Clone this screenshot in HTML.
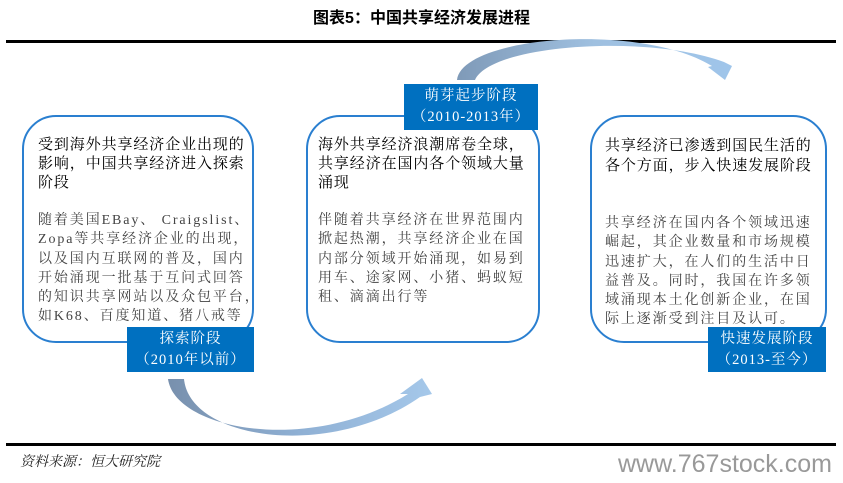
<!DOCTYPE html>
<html><head><meta charset="utf-8"><style>
body{margin:0;width:843px;height:483px;background:#fff;position:relative;overflow:hidden;font-family:"Liberation Serif","Noto Serif CJK SC",serif;}
.a{position:absolute;white-space:nowrap;}
.box{position:absolute;border:2px solid #2a7fd0;border-radius:34px;background:#fff;box-sizing:border-box;}
.h{font-size:15px;color:#000;letter-spacing:0.9px;}
.p{font-size:14px;color:#444;letter-spacing:1.9px;}
.lab{position:absolute;background:#0070c0;color:#fff;text-align:center;font-size:14.5px;line-height:21px;box-sizing:border-box;padding-top:2px;letter-spacing:1px;}
</style></head><body>
<div class="a" style="left:0;width:843px;top:4px;text-align:center;font-size:16px;font-weight:bold;font-family:'Liberation Sans','Noto Sans CJK SC',sans-serif;">图表5：中国共享经济发展进程</div>
<div class="a" style="left:6px;width:830px;top:40px;height:3px;background:#000"></div>
<div class="a" style="left:6px;width:830px;top:443px;height:3px;background:#000"></div>

<svg class="a" style="left:0;top:0" width="843" height="483">
<defs>
<linearGradient id="g1" x1="0" x2="1" y1="0" y2="0"><stop offset="0" stop-color="#7f9ab8"/><stop offset="0.5" stop-color="#9fc0e0"/><stop offset="1" stop-color="#9fc5ea"/></linearGradient>
<linearGradient id="g2" x1="0" x2="1" y1="0" y2="0"><stop offset="0" stop-color="#7890ad"/><stop offset="0.5" stop-color="#8fb0d4"/><stop offset="1" stop-color="#a5c8ea"/></linearGradient>
</defs>
<path d="M457,80 C462,36 640,22 712,66 L708,67 L725,80 L732,66 L724,62 C650,34 490,44 475,80 Z" fill="url(#g1)"/>
<path d="M168,379 C175,430 310,455 408,394 L400,394 L422,378 L432,394 L420,397 C330,460 190,440 184,379 Z" fill="url(#g2)"/>
</svg>

<div class="box" style="left:22px;top:115px;width:232px;height:228px"></div>
<div class="box" style="left:306px;top:115px;width:234px;height:228px"></div>
<div class="box" style="left:590px;top:115px;width:237px;height:228px"></div>

<div class="a h" style="left:38px;top:133px">受到海外共享经济企业出现的</div>
<div class="a h" style="left:38px;top:152px">影响，中国共享经济进入探索</div>
<div class="a h" style="left:38px;top:171px">阶段</div>
<div class="a p" style="left:38px;top:209px">随着美国EBay、 Craigslist、</div>
<div class="a p" style="left:38px;top:228px">Zopa等共享经济企业的出现，</div>
<div class="a p" style="left:38px;top:248px">以及国内互联网的普及，国内</div>
<div class="a p" style="left:38px;top:267px">开始涌现一批基于互问式回答</div>
<div class="a p" style="left:38px;top:286px">的知识共享网站以及众包平台，</div>
<div class="a p" style="left:38px;top:305px">如K68、百度知道、猪八戒等</div>

<div class="a h" style="left:318px;top:133px">海外共享经济浪潮席卷全球，</div>
<div class="a h" style="left:318px;top:152px">共享经济在国内各个领域大量</div>
<div class="a h" style="left:318px;top:171px">涌现</div>
<div class="a p" style="left:318px;top:209px">伴随着共享经济在世界范围内</div>
<div class="a p" style="left:318px;top:228px">掀起热潮，共享经济企业在国</div>
<div class="a p" style="left:318px;top:248px">内部分领域开始涌现，如易到</div>
<div class="a p" style="left:318px;top:267px">用车、途家网、小猪、蚂蚁短</div>
<div class="a p" style="left:318px;top:286px">租、滴滴出行等</div>

<div class="a h" style="left:605px;top:134px">共享经济已渗透到国民生活的</div>
<div class="a h" style="left:605px;top:154px">各个方面，步入快速发展阶段</div>
<div class="a p" style="left:605px;top:212px">共享经济在国内各个领域迅速</div>
<div class="a p" style="left:605px;top:231px">崛起，其企业数量和市场规模</div>
<div class="a p" style="left:605px;top:251px">迅速扩大，在人们的生活中日</div>
<div class="a p" style="left:605px;top:270px">益普及。同时，我国在许多领</div>
<div class="a p" style="left:605px;top:289px">域涌现本土化创新企业，在国</div>
<div class="a p" style="left:605px;top:308px">际上逐渐受到注目及认可。</div>

<div class="lab" style="left:404px;top:84px;width:134px;height:46px">萌芽起步阶段<br>（2010-2013年）</div>
<div class="lab" style="left:127px;top:327px;width:127px;height:45px">探索阶段<br>（2010年以前）</div>
<div class="lab" style="left:708px;top:327px;width:118px;height:45px">快速发展阶段<br>（2013-至今）</div>

<div class="a" style="left:20px;top:451px;font-size:14px;font-style:italic;color:#222;">资料来源：恒大研究院</div>
<div class="a" style="left:618px;top:450px;font-size:25px;color:#999;font-family:'Liberation Sans',sans-serif;">www.767stock.com</div>
</body></html>
